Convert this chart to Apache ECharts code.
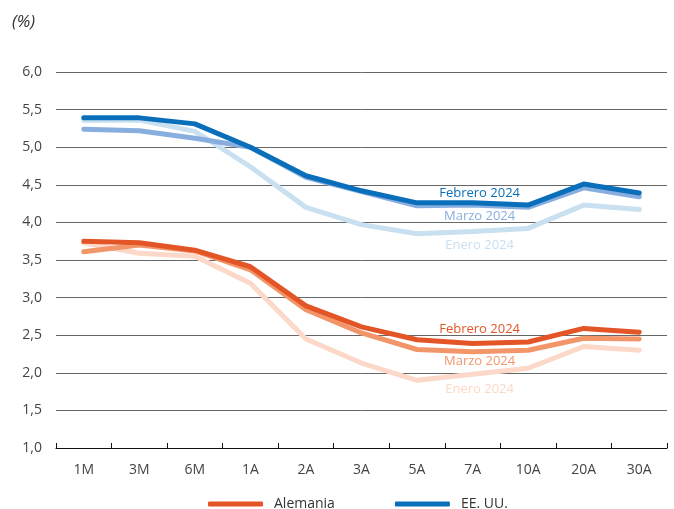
<!DOCTYPE html>
<html>
<head>
<meta charset="utf-8">
<script src="https://cdn.jsdelivr.net/npm/echarts@6/dist/echarts.min.js"></script>
<style>
  html, body { margin: 0; padding: 0; background: #fff; }
  #chart { width: 674px; height: 509px; }
</style>
</head>
<body>
<div id="chart"></div>
<script>
// Plazos de la curva
const categories = ['1M', '3M', '6M', '1A', '2A', '3A', '5A', '7A', '10A', '20A', '30A'];
const yTicks = [1.0, 1.5, 2.0, 2.5, 3.0, 3.5, 4.0, 4.5, 5.0, 5.5, 6.0];

// EE. UU.
const usEnero   = [5.36, 5.36, 5.21, 4.74, 4.20, 3.97, 3.85, 3.88, 3.92, 4.23, 4.17];
const usFebrero = [5.39, 5.39, 5.31, 5.00, 4.62, 4.42, 4.26, 4.26, 4.23, 4.51, 4.39];
const usMarzo   = [5.24, 5.22, 5.12, 5.00, 4.60, 4.41, 4.22, 4.23, 4.20, 4.46, 4.34];

// Alemania
const deEnero   = [3.73, 3.59, 3.55, 3.19, 2.45, 2.13, 1.90, 1.98, 2.06, 2.35, 2.30];
const deFebrero = [3.75, 3.73, 3.63, 3.41, 2.89, 2.61, 2.44, 2.39, 2.41, 2.59, 2.54];
const deMarzo   = [3.61, 3.70, 3.62, 3.37, 2.84, 2.53, 2.31, 2.28, 2.30, 2.46, 2.45];

// Plazo en el que se rotula cada curva
const labelAt = '7A';

function withLabel(values, text, color, dy) {
  const idx = categories.indexOf(labelAt);
  return values.map((v, i) => i !== idx ? v : {
    value: v,
    label: {
      show: true,
      formatter: text,
      position: 'inside',
      offset: [7, dy],
      color: color,
      fontSize: 13,
      fontFamily: 'Open Sans',
      letterSpacing: -0.3
    }
  });
}

function line(name, values, color, text, dy) {
  return {
    name: name,
    type: 'line',
    data: withLabel(values, text, color, dy),
    symbol: 'circle',
    symbolSize: 0,
    showSymbol: true,
    smooth: false,
    lineStyle: { color: color, width: 5, cap: 'round', join: 'round' },
    itemStyle: { color: color },
    emphasis: { disabled: true },
    z: 2
  };
}

const C = {
  usDark: '#0a6fba', usMid: '#88aee0', usLight: '#c9e0f1',
  deDark: '#e35526', deMid: '#f2966a', deLight: '#fcd8c8'
};

const chart = echarts.init(document.getElementById('chart'), null, { renderer: 'canvas' });
chart.setOption({
  animation: false,
  textStyle: { fontFamily: 'Open Sans' },
  grid: { left: 56, right: 7, top: 72, bottom: 61 },
  graphic: [{
    type: 'text', left: 12, top: 14,
    style: { text: '(%)', fontSize: 17, fontStyle: 'italic', fill: '#333', fontFamily: 'Open Sans' }
  }],
  legend: {
    data: ['Alemania', 'EE. UU.'],
    top: 492,
    left: 203,
    itemWidth: 55,
    itemHeight: 5,
    itemGap: 60,
    icon: 'roundRect',
    textStyle: { fontSize: 14, color: '#333', padding: [0, 0, 0, 6] }
  },
  xAxis: {
    type: 'category',
    data: categories,
    boundaryGap: true,
    axisLine: { lineStyle: { color: '#111', width: 1.2 } },
    axisTick: { show: true, inside: true, length: 5, lineStyle: { color: '#111' } },
    axisLabel: { fontSize: 14, color: '#444', margin: 15 }
  },
  yAxis: {
    type: 'value',
    min: yTicks[0],
    max: yTicks[yTicks.length - 1],
    interval: 0.5,
    axisLine: { show: false },
    axisTick: { show: false },
    splitLine: { lineStyle: { color: '#666', width: 1 } },
    axisLabel: {
      fontSize: 14, color: '#444', margin: 14,
      formatter: v => v.toFixed(1).replace('.', ',')
    }
  },
  series: [
    line('EE. UU. enero', usEnero, C.usLight, 'Enero 2024', 14),
    line('EE. UU. marzo', usMarzo, C.usMid, 'Marzo 2024', 11),
    line('EE. UU.', usFebrero, C.usDark, 'Febrero 2024', -10),
    line('Alemania enero', deEnero, C.deLight, 'Enero 2024', 15),
    line('Alemania marzo', deMarzo, C.deMid, 'Marzo 2024', 10),
    line('Alemania', deFebrero, C.deDark, 'Febrero 2024', -14)
  ]
});
</script>
</body>
</html>
